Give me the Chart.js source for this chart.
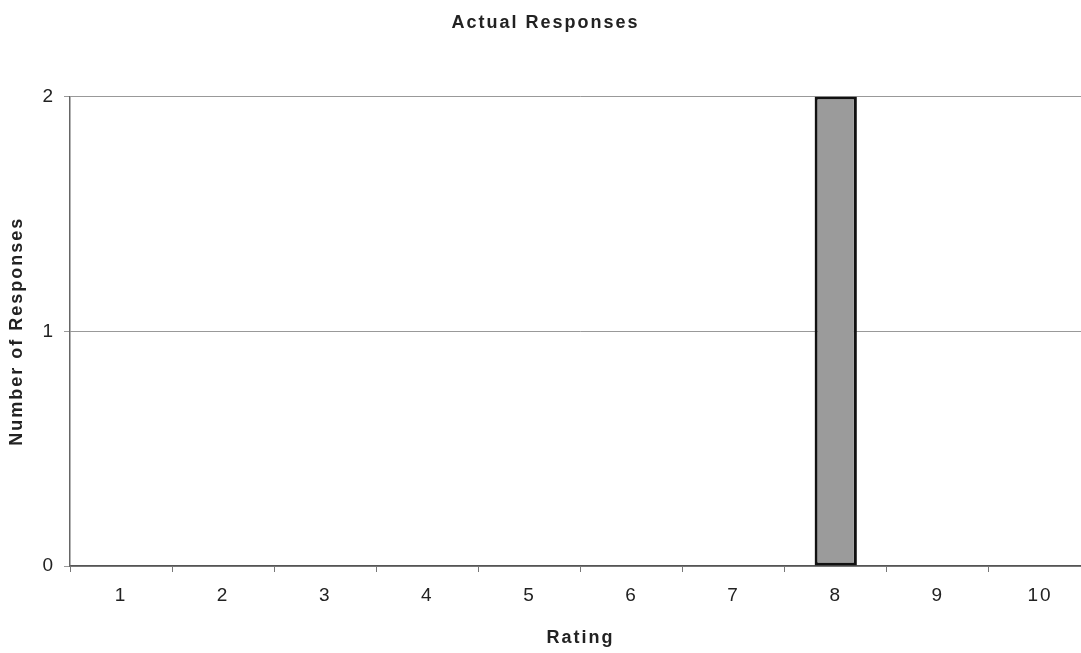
<!DOCTYPE html>
<html>
<head>
<meta charset="utf-8">
<script src="https://cdn.jsdelivr.net/npm/chart.js@4/dist/chart.umd.min.js"></script>
<style>
    html, body { margin: 0; padding: 0; background: #fff; overflow: hidden; }
    #wrap { width: 1081px; height: 653px; overflow: hidden; }
    #box { width: 1091px; height: 653px; }
</style>
</head>
<body>
<div id="wrap"><div id="box"><canvas id="chart"></canvas></div></div>
<script>
const ratings = ['1', '2', '3', '4', '5', '6', '7', '8', '9', '10'];
const responses = [0, 0, 0, 0, 0, 0, 0, 2, 0, 0];
const yTicks = [0, 1, 2];

// spaced-out lettering like the original print
const spacing = {
    id: 'spacing',
    beforeDraw(chart) { chart.ctx.letterSpacing = '2px'; }
};

const font = 'Liberation Sans, Arial, sans-serif';

new Chart(document.getElementById('chart'), {
    type: 'bar',
    data: {
        labels: ratings,
        datasets: [{
            label: 'Actual Responses',
            data: responses,
            backgroundColor: '#9b9b9b',
            borderColor: '#111',
            borderWidth: (c) => c.raw > 0 ? 3 : 0,
            borderSkipped: false,
            categoryPercentage: 0.46,
            barPercentage: 0.9
        }]
    },
    options: {
        responsive: true,
        maintainAspectRatio: false,
        animation: false,
        layout: { padding: 0 },
        plugins: {
            legend: { display: false },
            tooltip: { enabled: false },
            title: {
                display: true,
                text: 'Actual Responses',
                color: '#222',
                font: { family: font, size: 18, weight: 'bold' },
                padding: { top: 12, bottom: 63 }
            }
        },
        scales: {
            x: {
                afterFit(scale) { scale.height = 87; },
                grid: {
                    offset: true,
                    drawOnChartArea: false,
                    color: '#777',
                    tickLength: 6
                },
                border: { color: '#555', width: 1.5 },
                ticks: {
                    color: '#222',
                    padding: 12,
                    font: { family: font, size: 19 }
                },
                title: {
                    display: true,
                    text: 'Rating',
                    color: '#222',
                    font: { family: font, size: 18, weight: 'bold' },
                    padding: { top: 0, bottom: 4 }
                }
            },
            y: {
                min: 0,
                max: 2,
                afterFit(scale) { scale.width = 70; },
                afterBuildTicks(scale) { scale.ticks = yTicks.map(v => ({ value: v })); },
                grid: {
                    color: '#999',
                    lineWidth: 1,
                    tickLength: 6
                },
                border: { color: '#666', width: 1.5 },
                ticks: {
                    color: '#222',
                    padding: 9,
                    font: { family: font, size: 19 }
                },
                title: {
                    display: true,
                    text: 'Number of Responses',
                    color: '#222',
                    font: { family: font, size: 18, weight: 'bold' },
                    padding: { top: 6, bottom: 0 }
                }
            }
        }
    },
    plugins: [spacing]
});
</script>
</body>
</html>
